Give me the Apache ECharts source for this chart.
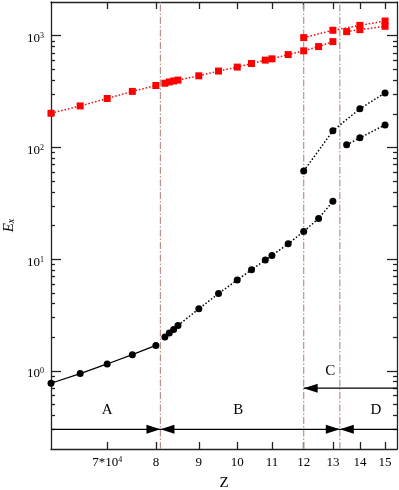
<!DOCTYPE html>
<html><head><meta charset="utf-8">
<script src="https://cdn.jsdelivr.net/npm/echarts@6/dist/echarts.min.js"></script>
<style>html,body{margin:0;padding:0;background:#fff}#c{width:399px;height:490px}</style>
</head><body><div id="c"></div><script>
// ---- data (Z, E_x) ----
const zA = [6.0, 6.5, 7.0, 7.5, 8.0];
const blackA = [0.775, 0.946, 1.154, 1.397, 1.69];
const redA = [202, 235, 274, 317, 358];
const zB = [8.2, 8.3, 8.4, 8.5, 9.0, 9.5, 10.0, 10.4, 10.8, 11.0, 11.5, 12.0, 12.5, 13.0];
const blackB = [2.01, 2.18, 2.35, 2.55, 3.59, 4.92, 6.51, 8.04, 9.82, 10.8, 13.7, 17.7, 23.1, 32.9];
const redB = [375, 385, 393, 400, 437, 482, 523, 563, 604, 620, 677, 731, 798, 884];
const zC = [12, 13, 14, 15];
const blackC = [61.4, 140.6, 222, 307];
const redC = [960, 1117, 1236, 1352];
const zD = [13.5, 14, 15];
const blackD = [105.5, 121.8, 159];
const redD = [1086, 1131, 1213];

const xRange = [6, 15.5];
const yRange = [0.2, 2000];
const xTicks = [7, 8, 9, 10, 11, 12, 13, 14, 15];
const xTickLabels = ['{n|7*10}{sup|4}', '{n|8}', '{n|9}', '{n|10}', '{n|11}', '{n|12}', '{n|13}', '{n|14}', '{n|15}'];
const yMajor = [1, 10, 100, 1000];
const yMajorLabels = ['{n|10}{sup|0}', '{n|10}{sup|1}', '{n|10}{sup|2}', '{n|10}{sup|3}'];
const yMinor = [0.3, 0.4, 0.5, 0.6, 0.7, 0.8, 0.9, 2, 3, 4, 5, 6, 7, 8, 9,
                20, 30, 40, 50, 60, 70, 80, 90, 200, 300, 400, 500, 600, 700, 800, 900];

const regionBounds = [8.1, 12, 13.25];
const arrowLineY = [0.3, 0.7];
const arrowLineFrom = [6, 12];
const arrowLineTo = [15.5, 15.5];
const headZ = [8.1, 8.1, 13.25, 13.25, 12];
const headE = [0.3, 0.3, 0.3, 0.3, 0.7];
const headDir = [1, -1, 1, -1, -1];
const regionNames = ['A', 'B', 'C', 'D'];
const regionZ = [7.0, 10.03, 12.91, 14.63];
const regionE = [0.443, 0.443, 1.0, 0.443];

// ---- build ----
const L = Math.log10;
const pts = (zs, vs) => zs.map((z, i) => [L(z), L(vs[i])]);
const serif = '"Liberation Serif","DejaVu Serif",serif';
const axisColor = '#222';
const nearestIdx = (arr, v) => { let b = 0; arr.forEach((a, i) => { if (Math.abs(L(a) - v) < Math.abs(L(arr[b]) - v)) b = i; }); return b; };
const labelRich = {
  n: { fontSize: 13, fontFamily: serif, color: '#000' },
  sup: { fontSize: 8, fontFamily: serif, color: '#000', verticalAlign: 'top' }
};

function xAxisDef(pos, showLabel) {
  return {
    type: 'value', position: pos, min: L(xRange[0]), max: L(xRange[1]),
    axisLine: { onZero: false, lineStyle: { color: axisColor, width: 1.3 } },
    splitLine: { show: false },
    axisTick: { inside: true, length: 7, customValues: xTicks.map(L), lineStyle: { color: axisColor, width: 1.3 } },
    axisLabel: {
      show: showLabel, customValues: xTicks.map(L), margin: 7, verticalAlign: 'top',
      fontFamily: serif, fontSize: 13, color: '#000', rich: labelRich,
      formatter: v => xTickLabels[nearestIdx(xTicks, v)]
    },
    name: showLabel ? 'Z' : '', nameLocation: 'middle', nameGap: 27,
    nameTextStyle: { fontFamily: serif, fontSize: 15, color: '#000', verticalAlign: 'top' }
  };
}
function yAxisDef(pos, ticks, len, showLabel, showLine) {
  return {
    type: 'value', position: pos, min: L(yRange[0]), max: L(yRange[1]),
    axisLine: { show: showLine, onZero: false, lineStyle: { color: axisColor, width: 1.3 } },
    splitLine: { show: false },
    axisTick: { inside: true, length: len, customValues: ticks.map(L), lineStyle: { color: axisColor, width: 1.3 } },
    axisLabel: {
      show: showLabel, customValues: yMajor.map(L), margin: 7, padding: [6, 0, 0, 0],
      fontFamily: serif, fontSize: 13, color: '#000', rich: labelRich,
      formatter: v => yMajorLabels[nearestIdx(yMajor, v)]
    },
    name: showLabel ? '{e|E}{s|x}' : '', nameLocation: 'middle', nameGap: 30, nameRotate: 90,
    nameTextStyle: {
      rich: {
        e: { fontFamily: serif, fontStyle: 'italic', fontSize: 15, color: '#000' },
        s: { fontFamily: serif, fontStyle: 'italic', fontSize: 10, color: '#000', verticalAlign: 'bottom' }
      }
    }
  };
}
const dotted = [1.5, 2];
function lineS(data, color, symbol, type) {
  return {
    type: 'line', data: data, symbol: symbol, symbolSize: 7, showSymbol: true, z: 3,
    itemStyle: { color: color }, lineStyle: { color: color, width: type === 'solid' ? 1.2 : 1.5, type: type },
    emphasis: { disabled: true }, animation: false
  };
}

const option = {
  animation: false,
  grid: { left: 51, right: 2, top: 2, bottom: 41, containLabel: false, outerBoundsMode: 'none' },
  xAxis: [xAxisDef('bottom', true), xAxisDef('top', false)],
  yAxis: [
    yAxisDef('left', yMajor, 10, true, true),
    yAxisDef('left', yMinor, 4, false, false),
    yAxisDef('right', yMajor, 10, false, true),
    yAxisDef('right', yMinor, 4, false, false)
  ],
  series: [
    {
      type: 'custom', z: 1, silent: true,
      data: regionBounds.map(z => [L(z), L(yRange[0])]),
      renderItem: (p, api) => {
        const x = api.value(0);
        const a = api.coord([x, L(yRange[0])]), b = api.coord([x, L(yRange[1])]);
        return { type: 'line', shape: { x1: a[0], y1: a[1], x2: b[0], y2: b[1] },
          style: { stroke: '#bc8f8f', lineWidth: 1.2, lineDash: [7, 2, 1.5, 2] } };
      }
    },
    {
      type: 'custom', z: 2, silent: true, encode: { x: [0, 2], y: 1 },
      data: arrowLineY.map((y, i) => [L(arrowLineFrom[i]), L(y), L(arrowLineTo[i])]),
      renderItem: (p, api) => {
        const a = api.coord([api.value(0), api.value(1)]), b = api.coord([api.value(2), api.value(1)]);
        return { type: 'line', shape: { x1: a[0], y1: a[1], x2: b[0], y2: b[1] },
          style: { stroke: '#000', lineWidth: 1.2 } };
      }
    },
    {
      type: 'custom', z: 2, silent: true,
      data: headZ.map((z, i) => [L(z), L(headE[i]), headDir[i]]),
      renderItem: (p, api) => {
        const c = api.coord([api.value(0), api.value(1)]);
        const d = api.value(2);
        return { type: 'polygon', shape: { points: [[c[0], c[1]], [c[0] - d * 14, c[1] - 4.5], [c[0] - d * 14, c[1] + 4.5]] },
          style: { fill: '#000' } };
      }
    },
    {
      type: 'custom', z: 2, silent: true,
      data: regionZ.map((z, i) => [L(z), L(regionE[i])]),
      renderItem: (p, api) => {
        const c = api.coord([api.value(0), api.value(1)]);
        return { type: 'text', style: { text: regionNames[p.dataIndex], x: c[0], y: c[1], fill: '#000',
          fontFamily: serif, fontSize: 15, align: 'center', verticalAlign: 'middle' } };
      }
    },
    lineS(pts(zA, redA), '#ff0000', 'rect', dotted),
    lineS(pts(zB, redB), '#ff0000', 'rect', dotted),
    lineS(pts(zC, redC), '#ff0000', 'rect', dotted),
    lineS(pts(zD, redD), '#ff0000', 'rect', dotted),
    lineS(pts(zA, blackA), '#000', 'circle', 'solid'),
    lineS(pts(zB, blackB), '#000', 'circle', dotted),
    lineS(pts(zC, blackC), '#000', 'circle', dotted),
    lineS(pts(zD, blackD), '#000', 'circle', dotted)
  ]
};
const chart = echarts.init(document.getElementById('c'));
chart.setOption(option);
</script></body></html>
